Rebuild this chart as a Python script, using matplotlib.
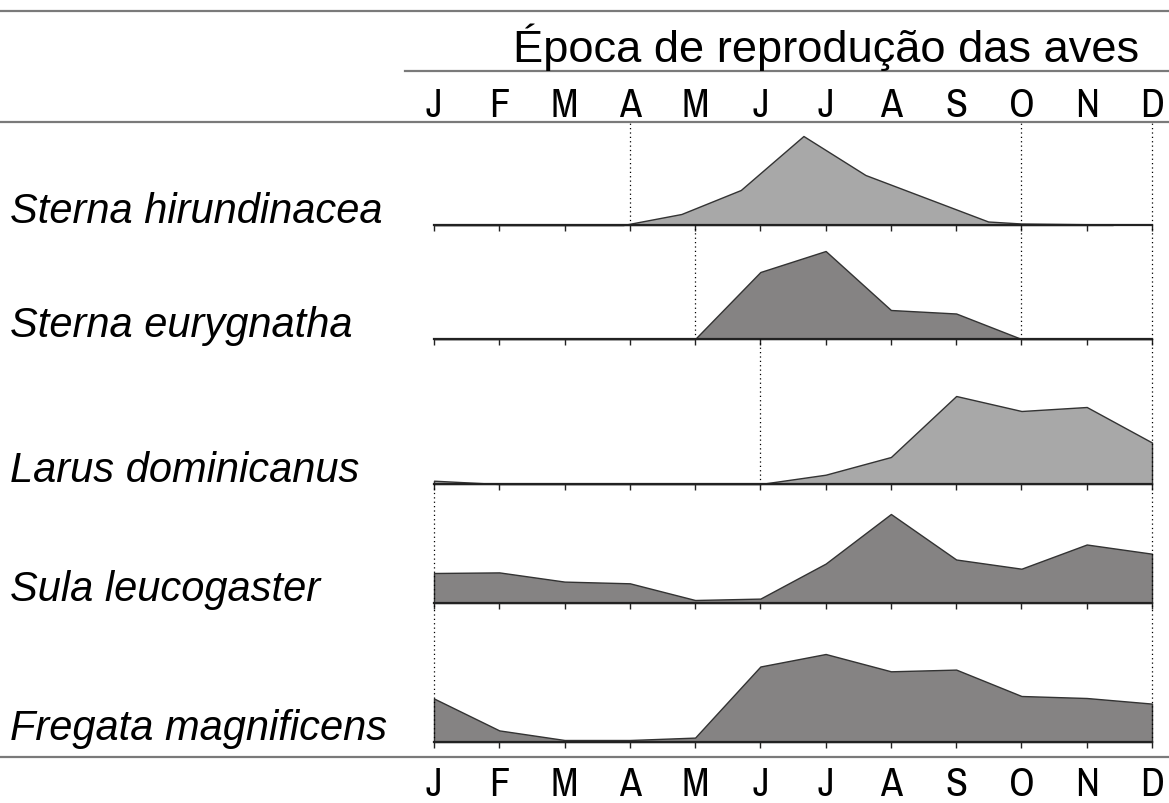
import numpy as np
import matplotlib
matplotlib.use("Agg")
import matplotlib.pyplot as plt
from matplotlib.lines import Line2D
from matplotlib.transforms import blended_transform_factory

W, H = 1169, 804

# %%
months = ["J", "F", "M", "A", "M", "J", "J", "A", "S", "O", "N", "D"]
title = "Época de reprodução das aves"
species = ["Sterna hirundinacea", "Sterna eurygnatha", "Larus dominicanus",
           "Sula leucogaster", "Fregata magnificens"]

# month positions (0 = Jan ... 11 = Dec), relative breeding activity
hirundinacea_x = [0, 1, 2, 2.9, 3.79, 4.70, 5.66, 6.61, 8.49, 9.0, 10.4]
hirundinacea_y = [0, 0, 0, 0, 11, 35, 89, 50, 3.5, 1.5, 0.5]
eurygnatha_y = [0, 0, 0, 0, 0, 67, 88, 29, 25.5, 0, 0, 0]
dominicanus_y = [3.3, 0, 0, 0, 0, 0, 9.3, 27, 88, 73, 77, 41.5]
leucogaster_y = [30, 30.6, 21.4, 19.7, 3, 4.4, 39.4, 89, 43.5, 34.3, 58.5, 49.3]
magnificens_y = [43.5, 11.6, 2, 2, 4.4, 75.5, 88, 70.7, 72.4, 46, 44, 38.4]

# season limits (dotted lines) per species
season_marks = [[3, 9, 11], [4, 9, 11], [5, 11], [0, 11], [0, 11]]

month_x = list(range(12))
series = [(hirundinacea_x, hirundinacea_y), (month_x, eurygnatha_y),
          (month_x, dominicanus_y), (month_x, leucogaster_y),
          (month_x, magnificens_y)]
light, dark = "#a8a8a8", "#858383"
fills = [light, dark, light, dark, dark]

# %%
plt.rcParams["font.family"] = ["Liberation Sans", "DejaVu Sans"]
narrow = ["Archivo Narrow", "Encode Sans Condensed", "Liberation Sans"]

fig = plt.figure(figsize=(W / 100, H / 100), dpi=100)

def fy(y):
    return 1 - y / H

# panel layout (pixels)
x0, x1 = 434, 1152
tops = [123, 226, 340, 485, 604]
bottoms = [226, 340, 485, 604, 743]

axes = []
for i, ((xs, ys), col) in enumerate(zip(series, fills)):
    ax = fig.add_axes([x0 / W, fy(bottoms[i]), (x1 - x0) / W, (bottoms[i] - tops[i]) / H])
    ax.set_xlim(0, 11)
    ax.set_ylim(0, bottoms[i] - tops[i])
    ax.fill_between(xs, ys, 0, facecolor=col, edgecolor="#333333", linewidth=1, clip_on=False, zorder=2)
    ax.vlines(season_marks[i], 0, bottoms[i] - tops[i], colors="k", linestyles=(0, (1, 2.5)),
              linewidth=0.9, zorder=3, clip_on=False)
    for s in ["top", "left", "right"]:
        ax.spines[s].set_visible(False)
    ax.spines["bottom"].set_linewidth(1.6)
    ax.spines["bottom"].set_color("#222222")
    ax.spines["bottom"].set_zorder(4)
    ax.set_yticks([])
    ax.set_xticks(month_x)
    ax.tick_params(axis="x", direction="out", length=4, width=1, labelbottom=False, color="#222222")
    ax.patch.set_visible(False)
    fig.text(10 / W, fy(bottoms[i] - 3), species[i], fontsize=30, style="italic",
             ha="left", va="baseline")
    axes.append(ax)

# horizontal rules
for y, xa in [(12, 0), (72, 405), (123, 0), (758, 0)]:
    fig.add_artist(Line2D([xa / W, 1], [fy(y), fy(y)], color="#7a7a7a", linewidth=1.6))

fig.text(826 / W, fy(62), title, fontsize=32.6, ha="center", va="baseline")

tr = blended_transform_factory(axes[0].transData, fig.transFigure)
for i, m in enumerate(months):
    fig.text(i, fy(117), m, transform=tr, fontsize=29, family=narrow, ha="center", va="baseline")
    fig.text(i, fy(796), m, transform=tr, fontsize=29, family=narrow, ha="center", va="baseline")

fig.savefig("out.png", dpi=100)
